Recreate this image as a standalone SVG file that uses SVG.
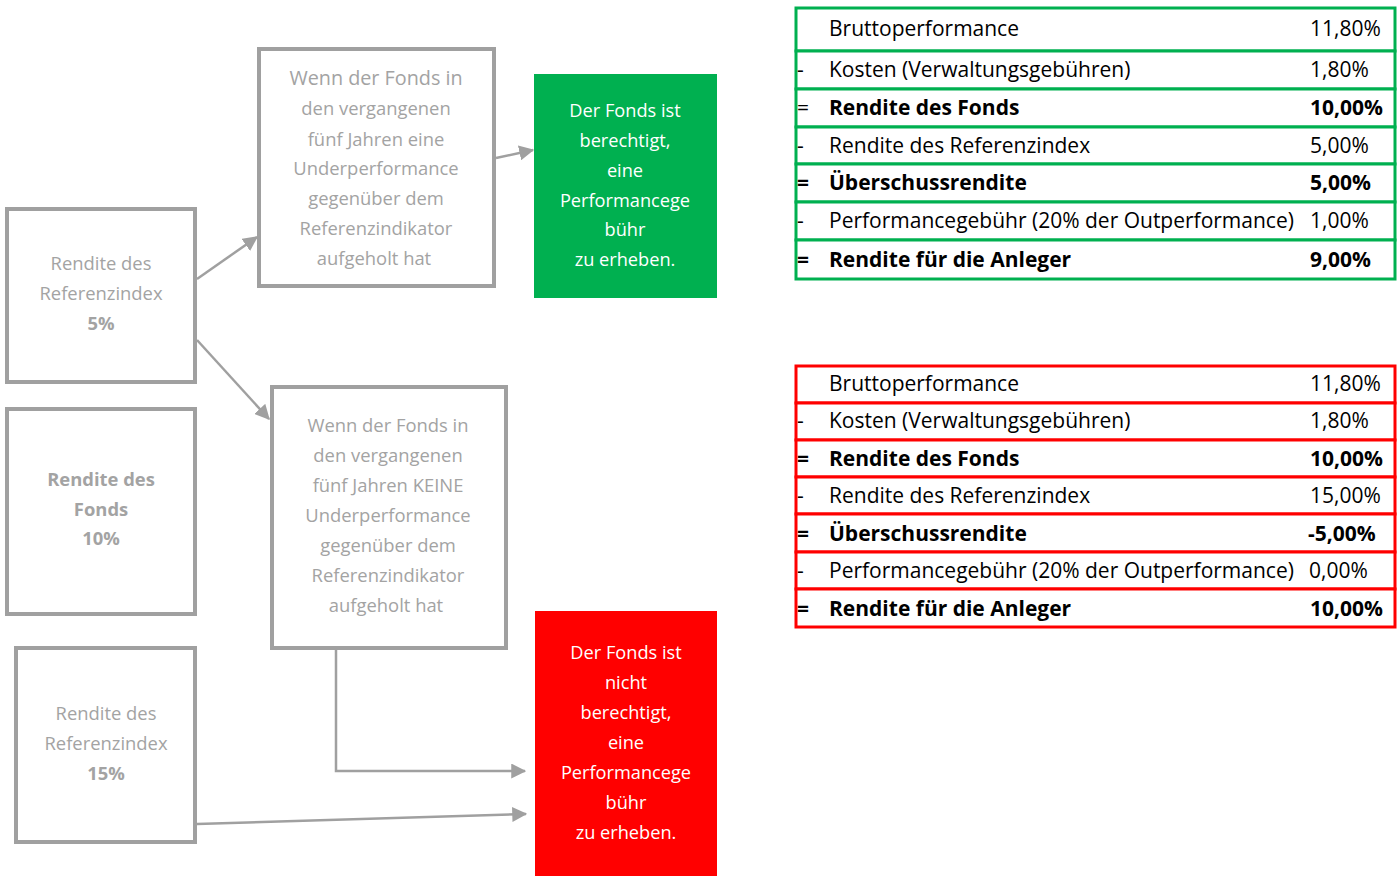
<svg xmlns="http://www.w3.org/2000/svg" width="1400" height="876" viewBox="0 0 1400 876">
<style>
.box{fill:#fff;stroke:#a0a0a0;stroke-width:4}
.bt{font-family:"Open Sans","Liberation Sans",sans-serif;font-size:18.4px;fill:#a3a3a3;text-anchor:middle}
.wt{font-family:"Open Sans","Liberation Sans",sans-serif;font-size:18.2px;fill:#fff;text-anchor:middle}
.b{font-weight:700}
.conn{fill:none;stroke:#a0a0a0;stroke-width:2.5}
.tt{font-family:"Open Sans","Liberation Sans",sans-serif;font-size:21px;fill:#000}
.gr{fill:#fff;stroke:#00b050;stroke-width:3}
.rr{fill:#fff;stroke:#ff0000;stroke-width:3}
</style>
<defs>
<marker id="ah" markerWidth="6" markerHeight="6" refX="5.5" refY="3" orient="auto" markerUnits="strokeWidth">
<path d="M0,0 L6,3 L0,6 Z" fill="#a0a0a0"/>
</marker>
</defs>
<rect width="1400" height="876" fill="#fff"/>

<g id="connectors">
<line class="conn" x1="197" y1="279" x2="257" y2="237" marker-end="url(#ah)"/>
<line class="conn" x1="197" y1="340" x2="269" y2="419" marker-end="url(#ah)"/>
<line class="conn" x1="496" y1="158" x2="533" y2="150" marker-end="url(#ah)"/>
<polyline class="conn" points="336,650 336,771 525,771" marker-end="url(#ah)"/>
<line class="conn" x1="197" y1="824" x2="526" y2="814" marker-end="url(#ah)"/>
</g>

<g id="node-ref5">
<rect class="box" x="7" y="209" width="188" height="173"/>
<text class="bt" x="101" y="270">Rendite des</text>
<text class="bt" x="101" y="300">Referenzindex</text>
<text class="bt b" x="101" y="330">5%</text>
</g>

<g id="node-fonds10">
<rect class="box" x="7" y="409" width="188" height="205"/>
<text class="bt b" x="101" y="486">Rendite des</text>
<text class="bt b" x="101" y="516">Fonds</text>
<text class="bt b" x="101" y="545">10%</text>
</g>

<g id="node-ref15">
<rect class="box" x="16" y="648" width="179" height="194"/>
<text class="bt" x="106" y="720">Rendite des</text>
<text class="bt" x="106" y="750">Referenzindex</text>
<text class="bt b" x="106" y="780">15%</text>
</g>

<g id="node-aufgeholt">
<rect class="box" x="259" y="49" width="235" height="237"/>
<text class="bt" x="376" y="85" style="font-size:19.8px">Wenn der Fonds in</text>
<text class="bt" x="376" y="115">den vergangenen</text>
<text class="bt" x="376" y="146">fünf Jahren eine</text>
<text class="bt" x="376" y="175">Underperformance</text>
<text class="bt" x="376" y="205">gegenüber dem</text>
<text class="bt" x="376" y="235">Referenzindikator</text>
<text class="bt" x="374" y="265">aufgeholt hat</text>
</g>

<g id="node-keine">
<rect class="box" x="272" y="387" width="234" height="261"/>
<text class="bt" x="388" y="432">Wenn der Fonds in</text>
<text class="bt" x="388" y="462">den vergangenen</text>
<text class="bt" x="388" y="492">fünf Jahren KEINE</text>
<text class="bt" x="388" y="522">Underperformance</text>
<text class="bt" x="388" y="552">gegenüber dem</text>
<text class="bt" x="388" y="582">Referenzindikator</text>
<text class="bt" x="386" y="612">aufgeholt hat</text>
</g>

<g id="node-berechtigt">
<rect x="534" y="74" width="183" height="224" fill="#00b050"/>
<text class="wt" x="625" y="117">Der Fonds ist</text>
<text class="wt" x="625" y="147">berechtigt,</text>
<text class="wt" x="625" y="177">eine</text>
<text class="wt" x="625" y="207">Performancege</text>
<text class="wt" x="625" y="236">bühr</text>
<text class="wt" x="625" y="266">zu erheben.</text>
</g>

<g id="node-nicht-berechtigt">
<rect x="535" y="611" width="182" height="265" fill="#ff0000"/>
<text class="wt" x="626" y="659">Der Fonds ist</text>
<text class="wt" x="626" y="689">nicht</text>
<text class="wt" x="626" y="719">berechtigt,</text>
<text class="wt" x="626" y="749">eine</text>
<text class="wt" x="626" y="779">Performancege</text>
<text class="wt" x="626" y="809">bühr</text>
<text class="wt" x="626" y="839">zu erheben.</text>
</g>

<g id="table-green">
<rect class="gr" x="796" y="8" width="599" height="43"/>
<rect class="gr" x="796" y="51" width="599" height="38"/>
<rect class="gr" x="796" y="89" width="599" height="38"/>
<rect class="gr" x="796" y="127" width="599" height="37"/>
<rect class="gr" x="796" y="164" width="599" height="38"/>
<rect class="gr" x="796" y="202" width="599" height="38"/>
<rect class="gr" x="796" y="240" width="599" height="39"/>
<text class="tt" x="829" y="36">Bruttoperformance</text><text class="tt" x="1310" y="36">11,80%</text>
<text class="tt" x="797" y="77">-</text><text class="tt" x="829" y="77">Kosten (Verwaltungsgebühren)</text><text class="tt" x="1310" y="77">1,80%</text>
<text class="tt" x="797" y="115">=</text><text class="tt b" x="829" y="115">Rendite des Fonds</text><text class="tt b" x="1310" y="115">10,00%</text>
<text class="tt" x="797" y="153">-</text><text class="tt" x="829" y="153">Rendite des Referenzindex</text><text class="tt" x="1310" y="153">5,00%</text>
<text class="tt b" x="797" y="190">=</text><text class="tt b" x="829" y="190">Überschussrendite</text><text class="tt b" x="1310" y="190">5,00%</text>
<text class="tt" x="797" y="228">-</text><text class="tt" x="829" y="228">Performancegebühr (20% der Outperformance)</text><text class="tt" x="1310" y="228">1,00%</text>
<text class="tt b" x="797" y="267">=</text><text class="tt b" x="829" y="267">Rendite für die Anleger</text><text class="tt b" x="1310" y="267">9,00%</text>
</g>

<g id="table-red">
<rect class="rr" x="796" y="366" width="599" height="37"/>
<rect class="rr" x="796" y="403" width="599" height="37"/>
<rect class="rr" x="796" y="440" width="599" height="37"/>
<rect class="rr" x="796" y="477" width="599" height="37"/>
<rect class="rr" x="796" y="514" width="599" height="38"/>
<rect class="rr" x="796" y="552" width="599" height="37"/>
<rect class="rr" x="796" y="589" width="599" height="38"/>
<text class="tt" x="829" y="391">Bruttoperformance</text><text class="tt" x="1310" y="391">11,80%</text>
<text class="tt" x="797" y="428">-</text><text class="tt" x="829" y="428">Kosten (Verwaltungsgebühren)</text><text class="tt" x="1310" y="428">1,80%</text>
<text class="tt b" x="797" y="466">=</text><text class="tt b" x="829" y="466">Rendite des Fonds</text><text class="tt b" x="1310" y="466">10,00%</text>
<text class="tt" x="797" y="503">-</text><text class="tt" x="829" y="503">Rendite des Referenzindex</text><text class="tt" x="1310" y="503">15,00%</text>
<text class="tt b" x="797" y="541">=</text><text class="tt b" x="829" y="541">Überschussrendite</text><text class="tt b" x="1308" y="541">-5,00%</text>
<text class="tt" x="797" y="578">-</text><text class="tt" x="829" y="578">Performancegebühr (20% der Outperformance)</text><text class="tt" x="1309" y="578">0,00%</text>
<text class="tt b" x="797" y="616">=</text><text class="tt b" x="829" y="616">Rendite für die Anleger</text><text class="tt b" x="1310" y="616">10,00%</text>
</g>
</svg>
